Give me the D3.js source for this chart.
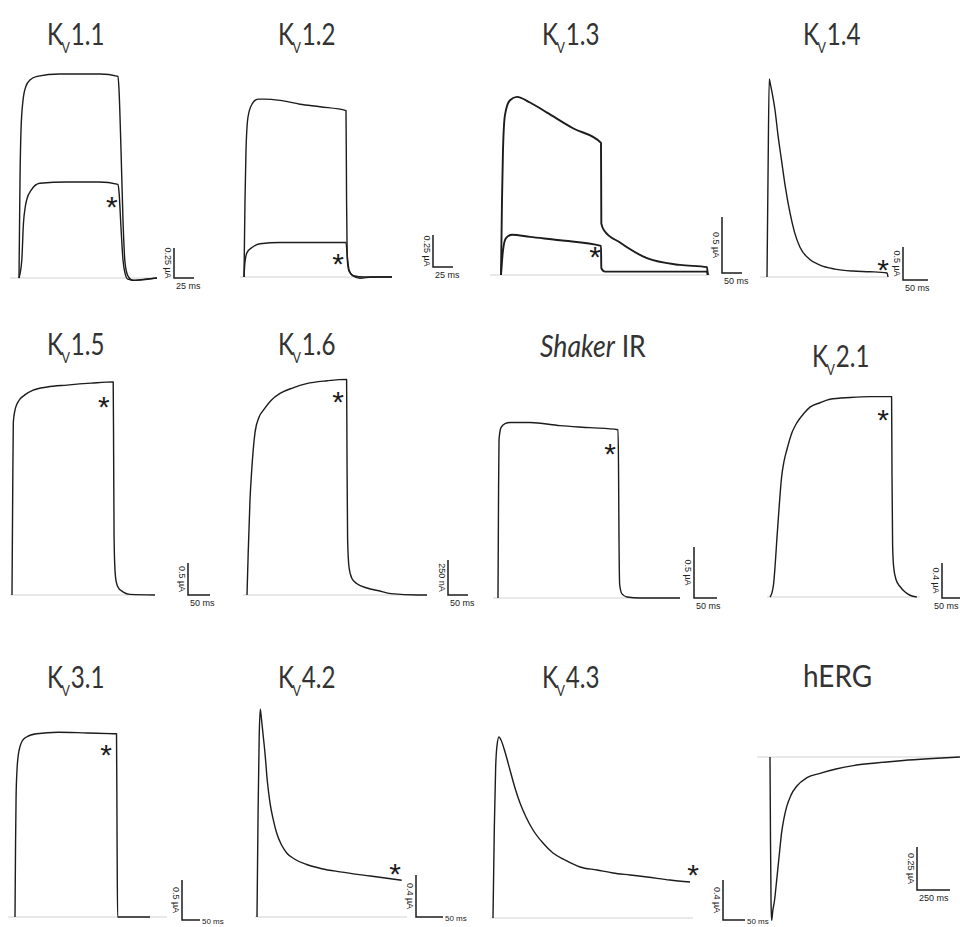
<!DOCTYPE html>
<html><head><meta charset="utf-8">
<script src="https://cdn.jsdelivr.net/npm/d3@7"></script>
<style>body{margin:0;background:#fff}</style>
</head><body><svg id="chart" width="960" height="927"></svg>
<script>
// ---- data: [time (ms from pulse onset), current (µA)] ----
const kv11Large = [[0,0],[1.25,0.82],[2.5,1.23],[5,1.48],[8.75,1.6],[13.75,1.65],[22.5,1.68],[51,1.7],[101,1.7],[123.75,1.68],[125,1.57],[127.5,1.07],[130,0.48],[132.5,0.13],[136,0.02],[142.5,-0.02],[157.5,-0.01],[172.5,0]];
const kv11Small = [[0,0],[3.5,0.15],[5.5,0.45],[8,0.6],[10,0.66],[15,0.73],[26,0.79],[60,0.8],[100,0.8],[123.75,0.78],[125,0.72],[127.5,0.42],[130,0.15],[132.5,0.04],[136,-0.01],[145,-0.02],[160,-0.01],[172.5,0]];
const kv12Large = [[0,0],[1.25,0.6],[2.5,0.99],[5,1.25],[10,1.35],[17.5,1.39],[26,1.39],[45,1.38],[70,1.35],[95,1.33],[127.5,1.3],[128.2,0.6],[129,0.15],[131,0.05],[137,0.01],[150,0],[185,0]];
const kv12Small = [[0,0],[1.25,0.12],[3.75,0.19],[10,0.23],[20,0.26],[45,0.27],[127.5,0.27],[129,0.17],[131.5,0.05],[136,0.01],[145,-0.01],[160,0],[185,0]];
const kv13Large = [[0,0],[2.5,0.67],[5,1.12],[10,1.43],[22.5,1.56],[40,1.59],[72.5,1.54],[115,1.45],[180,1.31],[250,1.18],[250.8,0.46],[257.5,0.4],[297.5,0.29],[365,0.15],[447.5,0.09],[515,0.07],[517,0]];
const kv13Small = [[0,0],[5,0.22],[12.5,0.33],[27.5,0.36],[72.5,0.34],[147.5,0.31],[250,0.26],[250.8,0.06],[260,0.03],[372.5,0.03],[515,0.03],[517,0]];
const kv14 = [[0,0],[2,1.5],[4.5,3.0],[6,2.95],[10,2.8],[16,2.53],[22,2.15],[29,1.77],[37,1.35],[46,0.97],[55,0.68],[66,0.45],[85,0.27],[106,0.18],[136,0.12],[172,0.09],[206,0.08],[240,0.06],[242,0]];
const kv15 = [[0,0],[1.5,1.5],[3,2.7],[6.8,2.89],[11,2.98],[18,3.06],[30,3.13],[48,3.2],[80,3.25],[125,3.28],[180,3.31],[230,3.33],[231,2.2],[232,0.9],[234,0.4],[237,0.2],[243,0.1],[252,0.05],[268,0.01],[325,0]];
const kv16 = [[0,0],[3,0.3],[7.5,0.68],[12,0.9],[20,1.16],[30,1.27],[41,1.32],[60,1.39],[82.5,1.44],[115,1.48],[149,1.51],[200,1.53],[249,1.54],[250,1.0],[251.5,0.4],[255,0.2],[262,0.12],[275,0.08],[300,0.05],[330,0.03],[360,0.01],[425,0],[450,0]];
const shakerIR = [[0,0],[1.1,0.96],[2.2,1.55],[6.5,1.67],[15.2,1.71],[26.1,1.72],[69.6,1.72],[134.8,1.69],[200,1.67],[260.9,1.65],[262,1.3],[263,0.6],[264.5,0.13],[269.6,0.04],[280.4,0.01],[308.7,0],[395.7,0]];
const kv21 = [[0,0],[5,0.05],[9,0.15],[12.5,0.34],[17,0.65],[21,0.91],[29,1.37],[35,1.55],[42,1.68],[55,1.88],[67,1.99],[85,2.1],[100,2.17],[125,2.22],[150,2.26],[200,2.28],[250,2.29],[304,2.29],[305,1.4],[306.5,0.6],[309,0.35],[315,0.2],[325,0.12],[337,0.06],[350,0.02],[367,0]];
const kv31 = [[0,0],[1.5,0.9],[3,1.5],[5.6,1.84],[9,2.02],[13.9,2.13],[20,2.2],[32,2.25],[60,2.29],[120,2.31],[200,2.3],[282,2.29],[283.5,1.0],[285,0],[375,0]];
const kv42 = [[0,0],[2,1.0],[4,1.7],[6,1.98],[8,1.9],[11,1.75],[14.8,1.56],[19,1.3],[24,1.09],[30,0.93],[36.4,0.8],[45,0.69],[55,0.61],[70,0.55],[92,0.5],[120,0.46],[154,0.43],[210,0.39],[268,0.35]];
const kv43 = [[0,0],[3,0.9],[6,1.5],[9,1.72],[13.6,1.81],[18.2,1.78],[27.3,1.66],[38.6,1.48],[50,1.3],[61.4,1.15],[75,1.01],[90.9,0.88],[113.6,0.75],[136.4,0.65],[163.6,0.58],[197.7,0.51],[236.4,0.48],[272.7,0.45],[311.4,0.43],[350,0.41],[402.3,0.38],[447.7,0.36]];
const hERG = [[0,0],[4,-0.5],[8,-0.85],[12.6,-0.95],[20,-0.9],[35,-0.83],[50,-0.72],[70,-0.57],[88,-0.44],[105,-0.36],[126,-0.29],[160,-0.22],[202,-0.17],[280,-0.12],[379,-0.095],[500,-0.07],[631,-0.05],[800,-0.035],[1010,-0.02],[1200,-0.01],[1439,0]];

// asterisk positions [ms, µA]
const stars = [[116,0.65],[117.5,0.156],[235,0.223],[232,0.212],[209,3.05],[227.5,1.43],[243.5,1.48],[282.5,2.11],[252.8,2.11],[255.6,0.476],[454.5,0.5],null];
// titles
const titles = [
  {pre:"K",sub:"V",post:"1.1"},{pre:"K",sub:"V",post:"1.2"},{pre:"K",sub:"V",post:"1.3"},{pre:"K",sub:"V",post:"1.4"},
  {pre:"K",sub:"V",post:"1.5"},{pre:"K",sub:"V",post:"1.6"},{ital:"Shaker",post:" IR"},{pre:"K",sub:"V",post:"2.1"},
  {pre:"K",sub:"V",post:"3.1"},{pre:"K",sub:"V",post:"4.2"},{pre:"K",sub:"V",post:"4.3"},{post:"hERG"}
];
// scale-bar values [ms, µA, vertical label, horizontal label]
const scaleBars = [
  [25,0.25,"0.25 µA","25 ms"],[25,0.25,"0.25 µA","25 ms"],[50,0.5,"0.5 µA","50 ms"],[50,0.5,"0.5 µA","50 ms"],
  [50,0.5,"0.5 µA","50 ms"],[50,0.25,"250 nA","50 ms"],[50,0.5,"0.5 µA","50 ms"],[50,0.4,"0.4 µA","50 ms"],
  [50,0.5,"0.5 µA","50 ms"],[50,0.4,"0.4 µA","50 ms"],[50,0.4,"0.4 µA","50 ms"],[250,0.25,"0.25 µA","250 ms"]
];
const traces = [[kv11Large,kv11Small],[kv12Large,kv12Small],[kv13Large,kv13Small],[kv14],[kv15],[kv16],[shakerIR],[kv21],[kv31],[kv42],[kv43],[hERG]];
// zero-current line extent [ms]
const baseExtent = [[-11.25,172.5],[-5,185],[-27.5,522.5],[-14,242],[-4.5,325],[-10,450],[-10.9,395.7],[-7.5,375],[-19.4,422],[-3.7,277.8],[-6.8,454.5],[-98,1439]];

// ---- layout (pixels) ----
const layout = [
  {tx:47,ty:45,x0:19,y0:278,kx:0.8,ky:120,bx:174,by:278},
  {tx:278,ty:45,x0:244,y0:277,kx:0.8,ky:128,bx:433,by:267},
  {tx:542,ty:45,x0:501,y0:275,kx:0.4,ky:112,bx:722,by:273,sw:1.9},
  {tx:803,ty:45,x0:767,y0:277,kx:0.5,ky:66,bx:903,by:280},
  {tx:47,ty:355,x0:12,y0:595,kx:0.44,ky:64,bx:188,by:595},
  {tx:278,ty:355,x0:247,y0:595,kx:0.4,ky:140,bx:448,by:595},
  {tx:540,ty:357,x0:498,y0:598,kx:0.46,ky:102,bx:694,by:598},
  {tx:812,ty:367,x0:770,y0:597,kx:0.4,ky:87.5,bx:942,by:598},
  {tx:47,ty:688,x0:15,y0:917,kx:0.36,ky:80,bx:182,by:920},
  {tx:278,ty:688,x0:257,y0:917,kx:0.54,ky:105,bx:416,by:917},
  {tx:542,ty:688,x0:493,y0:918,kx:0.44,ky:100,bx:723,by:920},
  {tx:803,ty:687,x0:770,y0:757,kx:0.132,ky:172,bx:917,by:890}
];

const W = 960, H = 927;
const svg = d3.select("#chart");
const titleFont = "Lato, 'Open Sans', sans-serif";
const labelFont = "'Liberation Sans Narrow', 'Liberation Sans', Arial, sans-serif";

layout.forEach((L, i) => {
  const g = svg.append("g");
  const x = d3.scaleLinear().domain([0, 100]).range([L.x0, L.x0 + 100 * L.kx]);
  const y = d3.scaleLinear().domain([0, 1]).range([L.y0, L.y0 - L.ky]);

  // zero line
  g.append("line")
    .attr("x1", x(baseExtent[i][0])).attr("x2", x(baseExtent[i][1]))
    .attr("y1", y(0)).attr("y2", y(0))
    .attr("stroke", "#d4d4d4").attr("stroke-width", 1.2);

  const line = d3.line().x(d => x(d[0])).y(d => y(d[1])).curve(d3.curveMonotoneX);
  traces[i].forEach(tr => {
    g.append("path").attr("d", line(tr)).attr("fill", "none")
      .attr("stroke", "#1c1c1c").attr("stroke-width", L.sw || 1.4)
      .attr("stroke-linejoin", "round");
  });

  // asterisk
  if (stars[i]) {
    const fs = 30;
    g.append("text").attr("x", x(stars[i][0])).attr("y", y(stars[i][1]) + 0.574 * fs)
      .attr("text-anchor", "middle").attr("font-family", "'Liberation Sans', Arial, sans-serif")
      .attr("font-size", fs).attr("fill", "#1c1c1c").text("*");
  }

  // scale bar
  const sb = scaleBars[i];
  const hLen = x(sb[0]) - x(0), vLen = y(0) - y(sb[1]);
  g.append("path").attr("d", `M${L.bx},${L.by - vLen}V${L.by}H${L.bx + hLen}`)
    .attr("fill", "none").attr("stroke", "#1c1c1c").attr("stroke-width", 1.5);
  g.append("text")
    .attr("transform", `translate(${L.bx - 9},${L.by - vLen / 2}) rotate(90)`)
    .attr("text-anchor", "middle").attr("font-family", labelFont).attr("font-size", 9)
    .attr("fill", "#222").text(sb[2]);
  // horizontal label: kept inside the picture
  const low = L.by + 11 > H - 1;
  const hl = g.append("text")
    .attr("font-family", labelFont).attr("font-size", low ? 7 : 9).attr("fill", "#222").text(sb[3]);
  const ly = low ? H - 1 : L.by + 11;
  hl.attr("x", L.bx + 2).attr("y", ly);
  const bb = hl.node().getBBox();
  if (bb.x + bb.width > W - 1) hl.attr("x", W - 1 - bb.width);
  if (low) hl.attr("x", L.bx + hLen + 2).attr("y", L.by + 4).attr("font-size", 8);

  // title
  const T = titles[i];
  const t = svg.append("text")
    .attr("transform", `translate(${L.tx},${L.ty}) scale(0.78,1)`)
    .attr("font-family", titleFont).attr("font-weight", 400)
    .attr("font-size", 31).attr("fill", "#333");
  if (T.ital) {
    t.attr("transform", `translate(${L.tx},${L.ty}) scale(0.86,1)`);
    t.append("tspan").attr("font-style", "italic").text(T.ital);
    t.append("tspan").text(T.post);
  } else if (T.sub) {
    t.append("tspan").text(T.pre);
    t.append("tspan").attr("font-size", 16).attr("dx", -2).attr("dy", 8).text(T.sub);
    t.append("tspan").attr("dy", -8).attr("dx", 1).text(T.post);
  } else {
    t.attr("transform", `translate(${L.tx},${L.ty}) scale(0.9,1)`);
    t.text(T.post);
  }
});
</script></body></html>
